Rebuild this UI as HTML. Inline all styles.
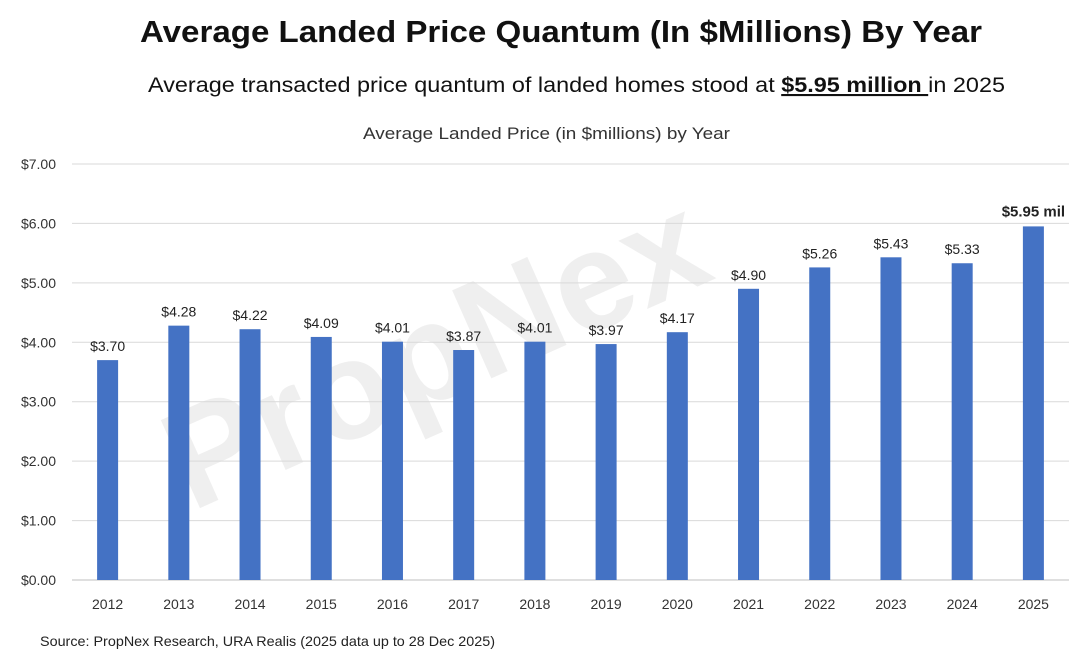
<!DOCTYPE html>
<html><head><meta charset="utf-8"><style>
body{margin:0;width:1080px;height:661px;background:#fff;overflow:hidden;font-family:"Liberation Sans",sans-serif}
</style></head><body>
<svg width="1080" height="661" xmlns="http://www.w3.org/2000/svg">
<text x="140" y="42" font-size="31" font-weight="bold" fill="#111" textLength="842" lengthAdjust="spacingAndGlyphs">Average Landed Price Quantum (In $Millions) By Year</text>
<text x="148" y="92" font-size="21" fill="#111" textLength="857" lengthAdjust="spacingAndGlyphs">Average transacted price quantum of landed homes stood at <tspan font-weight="bold" text-decoration="underline">$5.95 million </tspan>in 2025</text>
<text x="363" y="139" font-size="17" fill="#333" textLength="367" lengthAdjust="spacingAndGlyphs">Average Landed Price (in $millions) by Year</text>
<text x="430" y="400" font-size="140" font-weight="bold" fill="#000" opacity="0.06" transform="rotate(-24 430 340)" text-anchor="middle">PropNex</text>
<g id="grid"></g><g id="bars"></g><g id="labels"></g>
<text x="40" y="646" font-size="14" fill="#222" textLength="455" lengthAdjust="spacingAndGlyphs">Source: PropNex Research, URA Realis (2025 data up to 28 Dec 2025)</text>
</svg>
<script>
const years=["2012","2013","2014","2015","2016","2017","2018","2019","2020","2021","2022","2023","2024","2025"];
const values=[3.70,4.28,4.22,4.09,4.01,3.87,4.01,3.97,4.17,4.90,5.26,5.43,5.33,5.95];
const valueLabels=["$3.70","$4.28","$4.22","$4.09","$4.01","$3.87","$4.01","$3.97","$4.17","$4.90","$5.26","$5.43","$5.33","$5.95 mil"];
const yTicks=[0,1,2,3,4,5,6,7];
const NS="http://www.w3.org/2000/svg";
const L=72,R=1069,T=164,B=580,maxV=7;
const y=v=>B-(v/maxV)*(B-T);
const band=(R-L)/years.length;
const xc=i=>L+band*(i+0.5);
function mk(tag,attrs,parent){const e=document.createElementNS(NS,tag);for(const k in attrs)e.setAttribute(k,attrs[k]);document.getElementById(parent).appendChild(e);return e;}
yTicks.forEach(t=>{
 const l=mk('line',{x1:L,x2:R,y1:y(t),y2:y(t),stroke:t===0?'#bfbfbf':'#d9d9d9','stroke-width':1},'grid');
 
 
 const tx=mk('text',{x:56,y:y(t)+5,'font-size':14,fill:'#333','text-anchor':'end'},'grid');
 tx.textContent='$'+t.toFixed(2);
 
 
});
years.forEach((yr,i)=>{
 const r=mk('rect',{x:xc(i)-10.5,y:y(values[i]),width:21,height:B-y(values[i]),fill:'#4472C4'},'bars');
 
 
 const last=i===years.length-1;
 const vl=mk('text',{x:xc(i),y:y(values[i])-(last?10:9),'font-size':last?15:14,'font-weight':last?'bold':'normal',fill:'#222','text-anchor':'middle'},'labels');
 vl.textContent=valueLabels[i];
 
 
 const xl=mk('text',{x:xc(i),y:609,'font-size':14,fill:'#333','text-anchor':'middle'},'labels');
 xl.textContent=yr;
 
 
});
</script>
</body></html>
